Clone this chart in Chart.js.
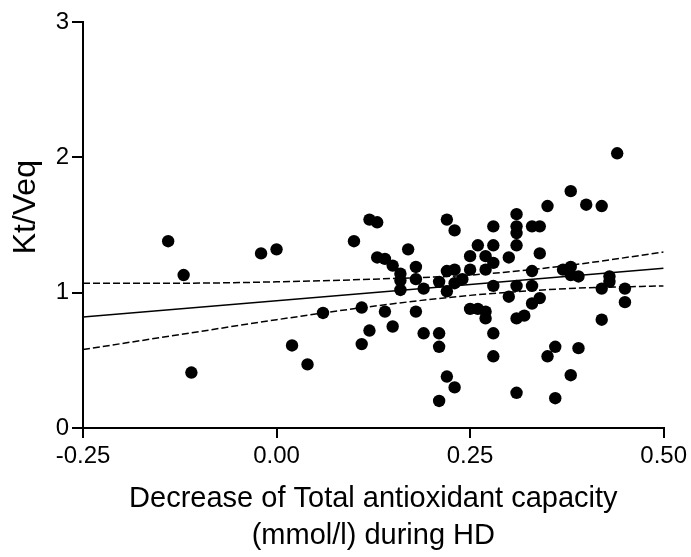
<!DOCTYPE html>
<html>
<head>
<meta charset="utf-8">
<script src="https://cdn.jsdelivr.net/npm/chart.js@4/dist/chart.umd.min.js"></script>
<style>
    html, body { margin: 0; padding: 0; background: #fff; }
    #wrap { width: 691px; height: 557px; }
</style>
</head>
<body>
<div id="wrap"><canvas id="chart" width="691" height="557"></canvas></div>
<script>
// Data
const tacDecrease = [
    -0.14, -0.12, -0.11, -0.02, 0.00, 0.02, 0.04, 0.06, 0.10, 0.11,
    0.12, 0.11, 0.13, 0.12, 0.13, 0.14, 0.15, 0.16, 0.16, 0.16,
    0.14, 0.15, 0.17, 0.18, 0.18, 0.19, 0.18, 0.19, 0.21, 0.21,
    0.21, 0.21, 0.22, 0.23, 0.22, 0.23, 0.22, 0.23, 0.24, 0.22,
    0.23, 0.25, 0.25, 0.26, 0.25, 0.26, 0.27, 0.27, 0.27, 0.27,
    0.28, 0.28, 0.28, 0.28, 0.28, 0.28, 0.30, 0.30, 0.31, 0.31,
    0.31, 0.31, 0.31, 0.31, 0.32, 0.31, 0.33, 0.34, 0.34, 0.33,
    0.33, 0.33, 0.34, 0.35, 0.38, 0.40, 0.42, 0.44, 0.37, 0.38,
    0.38, 0.39, 0.43, 0.43, 0.42, 0.45, 0.45, 0.42, 0.36, 0.35,
    0.39, 0.38, 0.36
];
const ktVeq = [
    1.38, 1.13, 0.41, 1.29, 1.32, 0.61, 0.47, 0.85, 1.38, 0.89,
    0.72, 0.62, 1.26, 1.54, 1.52, 1.25, 1.20, 1.14, 1.09, 1.02,
    0.86, 0.75, 1.32, 1.19, 1.10, 1.03, 0.86, 0.70, 0.70, 0.60,
    0.20, 1.08, 1.54, 1.46, 1.16, 1.17, 1.01, 1.07, 1.10, 0.38,
    0.30, 1.27, 1.17, 1.35, 0.88, 0.88, 0.86, 0.81, 1.27, 1.17,
    1.49, 1.35, 1.22, 1.05, 0.70, 0.53, 1.26, 0.97, 1.58, 1.49,
    1.44, 1.35, 1.05, 0.81, 0.83, 0.26, 1.49, 1.49, 1.29, 1.16,
    1.05, 0.92, 0.96, 1.64, 1.75, 1.65, 1.64, 2.03, 1.17, 1.19,
    1.13, 1.12, 1.12, 1.08, 1.03, 1.03, 0.93, 0.80, 0.60, 0.53,
    0.59, 0.39, 0.22
];

// Regression line and 95% band, read at a few x positions
const fitX = [-0.25, 0.50];
const fitY = [0.82, 1.18];
const bandX = [-0.25, -0.125, 0.00, 0.125, 0.25, 0.375, 0.50];
const bandUpper = [1.07, 1.07, 1.08, 1.10, 1.13, 1.20, 1.30];
const bandLower = [0.58, 0.69, 0.80, 0.90, 0.98, 1.03, 1.05];

const xTicks = [-0.25, 0.00, 0.25, 0.50];
const yTicks = [0, 1, 2, 3];

const FONT = 'Arial, "Liberation Sans", Helvetica, sans-serif';

function pairs(xs, ys) {
    return xs.map((x, i) => ({ x: x, y: ys[i] }));
}

const bandStyle = {
    type: 'line',
    borderColor: '#000',
    borderWidth: 1.5,
    borderDash: [7, 3],
    pointRadius: 0,
    fill: false,
    cubicInterpolationMode: 'monotone'
};

new Chart(document.getElementById('chart').getContext('2d'), {
    type: 'scatter',
    data: {
        datasets: [
            {
                label: 'Kt/Veq',
                data: pairs(tacDecrease, ktVeq),
                backgroundColor: '#000',
                borderWidth: 0,
                pointRadius: 6.2
            },
            {
                type: 'line',
                label: 'fit',
                data: pairs(fitX, fitY),
                borderColor: '#000',
                borderWidth: 1.6,
                pointRadius: 0,
                fill: false
            },
            Object.assign({ label: 'upper', data: pairs(bandX, bandUpper) }, bandStyle),
            Object.assign({ label: 'lower', data: pairs(bandX, bandLower) }, bandStyle)
        ]
    },
    options: {
        responsive: false,
        animation: false,
        layout: { padding: { top: 22, right: 26, left: 7, bottom: 0 } },
        plugins: {
            legend: { display: false },
            tooltip: { enabled: false }
        },
        scales: {
            x: {
                type: 'linear',
                min: -0.25,
                max: 0.50,
                afterBuildTicks: (s) => { s.ticks = xTicks.map(v => ({ value: v })); },
                afterFit: (s) => { s.height = 129; },
                border: { display: true, color: '#000', width: 2 },
                grid: { drawOnChartArea: false, drawTicks: true, tickLength: 10, color: '#000', lineWidth: 2 },
                ticks: {
                    color: '#000',
                    padding: 4,
                    font: { family: FONT, size: 24 },
                    callback: (v) => v.toFixed(2)
                },
                title: {
                    display: true,
                    text: ['Decrease of Total antioxidant capacity', '(mmol/l) during HD'],
                    color: '#000',
                    font: { family: FONT, size: 29, lineHeight: 1.28 },
                    padding: { top: 0, bottom: 2 }
                }
            },
            y: {
                min: 0,
                max: 3,
                afterBuildTicks: (s) => { s.ticks = yTicks.map(v => ({ value: v })); },
                afterFit: (s) => { s.width = 76; },
                border: { display: true, color: '#000', width: 2 },
                grid: { drawOnChartArea: false, drawTicks: true, tickLength: 11, color: '#000', lineWidth: 2 },
                ticks: {
                    color: '#000',
                    padding: 3,
                    font: { family: FONT, size: 24 }
                },
                title: {
                    display: true,
                    // leading spaces nudge the rotated label upward like the original
                    text: '    Kt/Veq',
                    color: '#000',
                    font: { family: FONT, size: 32, lineHeight: 1.2 },
                    padding: 0
                }
            }
        }
    }
});
</script>
</body>
</html>
